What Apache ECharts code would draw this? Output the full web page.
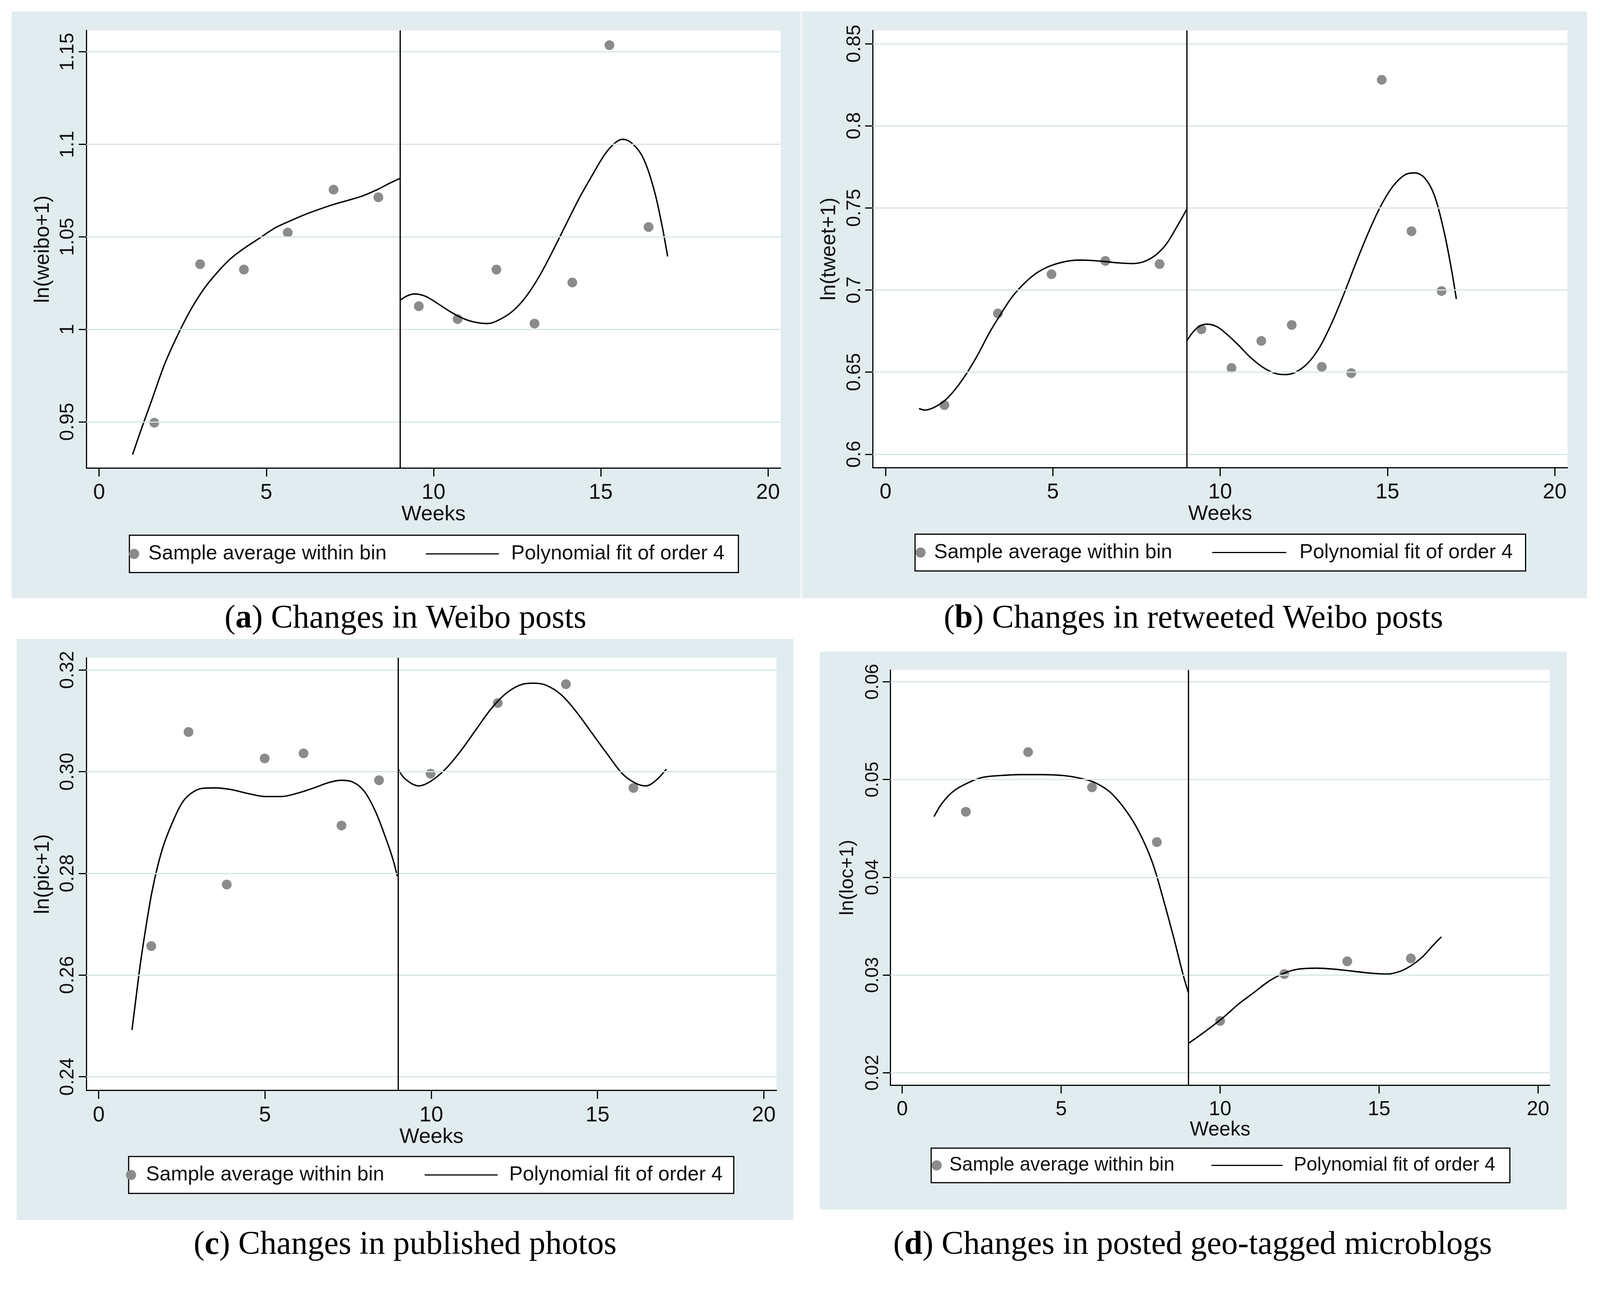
<!DOCTYPE html>
<html>
<head>
<meta charset="utf-8">
<script src="https://cdn.jsdelivr.net/npm/echarts@6/dist/echarts.min.js"></script>
<style>
html,body{margin:0;padding:0;background:#ffffff;overflow:hidden;}
#c{width:4166px;height:3323px;}
</style>
</head>
<body>
<div id="c"></div>
<script>
// ---------------- DATA ----------------
const xTicks = [0, 5, 10, 15, 20];
const xTickLabels = ['0', '5', '10', '15', '20'];
const cutoffWeek = 9;

// (a) ln(weibo+1)
const aTicks = [0.95, 1, 1.05, 1.1, 1.15];
const aTickLabels = ['0.95', '1', '1.05', '1.1', '1.15'];
const aWeeks = [1.65, 3.02, 4.33, 5.64, 7.01, 8.35, 9.56, 10.72, 11.88, 13.02, 14.15, 15.26, 16.43];
const aBin = [0.9495, 1.0352, 1.0323, 1.0523, 1.0755, 1.0714, 1.0125, 1.0055, 1.0323, 1.0031, 1.0253, 1.1536, 1.0553];
const aFitLeftWeeks = [1.0, 1.3, 1.56, 1.96, 2.35, 2.75, 3.14, 3.54, 3.94, 4.33, 4.79, 5.25, 5.65, 6.11, 6.57, 7.01, 7.5, 7.89, 8.35, 8.68, 9.0];
const aFitLeft = [0.9323, 0.948, 0.961, 0.9812, 0.9969, 1.0109, 1.022, 1.0309, 1.0383, 1.0437, 1.0492, 1.0547, 1.0581, 1.0617, 1.0648, 1.0675, 1.07, 1.0722, 1.0758, 1.0789, 1.0816];
const aFitRightWeeks = [9.0, 9.2, 9.43, 9.74, 10.05, 10.44, 10.83, 11.22, 11.61, 12.0, 12.39, 12.78, 13.17, 13.56, 13.95, 14.34, 14.73, 15.12, 15.43, 15.66, 15.97, 16.28, 16.6, 16.83, 17.0];
const aFitRight = [1.0156, 1.018, 1.0191, 1.018, 1.0148, 1.0102, 1.0063, 1.0039, 1.0031, 1.0055, 1.0102, 1.018, 1.0289, 1.0422, 1.0563, 1.0703, 1.0828, 1.0945, 1.1008, 1.1027, 1.1, 1.0922, 1.075, 1.0563, 1.0394];

// (b) ln(tweet+1)
const bTicks = [0.6, 0.65, 0.7, 0.75, 0.8, 0.85];
const bTickLabels = ['0.6', '0.65', '0.7', '0.75', '0.8', '0.85'];
const bWeeks = [1.76, 3.36, 4.96, 6.57, 8.19, 9.44, 10.34, 11.23, 12.14, 13.04, 13.92, 14.83, 15.72, 16.62];
const bBin = [0.6299, 0.6857, 0.7096, 0.7177, 0.7158, 0.6761, 0.6525, 0.669, 0.6787, 0.6532, 0.6494, 0.828, 0.7358, 0.6994];
const bFitLeftWeeks = [1.0, 1.19, 1.46, 1.76, 2.07, 2.41, 2.75, 3.09, 3.43, 3.77, 4.11, 4.45, 4.79, 5.13, 5.47, 5.81, 6.15, 6.57, 6.96, 7.37, 7.71, 8.05, 8.39, 8.73, 9.0];
const bFitLeft = [0.6278, 0.6269, 0.6286, 0.6325, 0.6392, 0.6488, 0.6603, 0.6734, 0.6849, 0.6954, 0.7033, 0.7094, 0.7135, 0.7161, 0.7177, 0.7182, 0.718, 0.7173, 0.7165, 0.7161, 0.7172, 0.7209, 0.7279, 0.7393, 0.749];
const bFitRightWeeks = [9.0, 9.31, 9.6, 9.89, 10.18, 10.55, 10.91, 11.28, 11.65, 11.94, 12.23, 12.6, 12.96, 13.33, 13.69, 14.06, 14.43, 14.79, 15.16, 15.52, 15.82, 16.11, 16.4, 16.69, 16.91, 17.06];
const bFitRight = [0.669, 0.6769, 0.6792, 0.6778, 0.6734, 0.6664, 0.6589, 0.6529, 0.6492, 0.6485, 0.6497, 0.655, 0.6647, 0.6796, 0.6971, 0.7165, 0.7349, 0.7507, 0.763, 0.7701, 0.7713, 0.7683, 0.7578, 0.7358, 0.713, 0.6945];

// (c) ln(pic+1)
const cTicks = [0.24, 0.26, 0.28, 0.30, 0.32];
const cTickLabels = ['0.24', '0.26', '0.28', '0.30', '0.32'];
const cWeeks = [1.58, 2.70, 3.85, 4.99, 6.16, 7.30, 8.43, 9.98, 12.0, 14.05, 16.08];
const cBin = [0.2657, 0.3078, 0.2778, 0.3026, 0.3036, 0.2894, 0.2983, 0.2996, 0.3135, 0.3172, 0.2968];
const cFitLeftWeeks = [1.0, 1.12, 1.25, 1.39, 1.59, 1.78, 1.98, 2.25, 2.51, 2.77, 3.1, 3.5, 3.96, 4.49, 5.02, 5.48, 5.94, 6.47, 6.94, 7.3, 7.66, 7.99, 8.32, 8.65, 8.85, 8.98];
const cFitLeft = [0.2492, 0.2554, 0.2621, 0.2682, 0.276, 0.2816, 0.2861, 0.2905, 0.2939, 0.2957, 0.2967, 0.2968, 0.2965, 0.2957, 0.2951, 0.2951, 0.2957, 0.2968, 0.2979, 0.2983, 0.2979, 0.2961, 0.2922, 0.2866, 0.2827, 0.2794];
const cFitRightWeeks = [9.0, 9.21, 9.63, 9.98, 10.44, 10.9, 11.36, 11.83, 12.29, 12.75, 13.06, 13.45, 13.91, 14.37, 14.83, 15.3, 15.76, 16.15, 16.45, 16.76, 17.07];
const cFitRight = [0.3006, 0.2986, 0.2972, 0.2981, 0.3006, 0.3042, 0.3084, 0.3126, 0.3156, 0.3172, 0.3174, 0.317, 0.3151, 0.3117, 0.3076, 0.3034, 0.2995, 0.2977, 0.2972, 0.2983, 0.3005];

// (d) ln(loc+1)
const dTicks = [0.02, 0.03, 0.04, 0.05, 0.06];
const dTickLabels = ['0.02', '0.03', '0.04', '0.05', '0.06'];
const dWeeks = [2.0, 3.96, 5.97, 8.01, 10.0, 12.02, 14.0, 16.0];
const dBin = [0.0467, 0.0528, 0.0492, 0.0436, 0.0253, 0.0301, 0.0314, 0.0317];
const dFitLeftWeeks = [1.0, 1.26, 1.61, 2.03, 2.51, 3.07, 3.69, 4.39, 5.08, 5.63, 6.05, 6.54, 7.02, 7.44, 7.86, 8.2, 8.55, 8.83, 9.0];
const dFitLeft = [0.0462, 0.0476, 0.0488, 0.0496, 0.0502, 0.0504, 0.0505, 0.0505, 0.0504, 0.0501, 0.0497, 0.0487, 0.0469, 0.0447, 0.0416, 0.0379, 0.0337, 0.0301, 0.0282];
const dFitRightWeeks = [9.0, 9.52, 10.08, 10.57, 11.06, 11.55, 12.02, 12.46, 13.02, 13.58, 14.14, 14.7, 15.26, 15.68, 16.03, 16.38, 16.66, 16.96];
const dFitRight = [0.023, 0.0242, 0.0256, 0.027, 0.0282, 0.0294, 0.0302, 0.0306, 0.0307, 0.0306, 0.0304, 0.0302, 0.0301, 0.0304, 0.031, 0.0319, 0.0329, 0.0339];

const yTitles = ['ln(weibo+1)', 'ln(tweet+1)', 'ln(pic+1)', 'ln(loc+1)'];
const xTitle = 'Weeks';
const legendNames = ['Sample average within bin', 'Polynomial fit of order 4'];
const captionLetters = ['a', 'b', 'c', 'd'];
const captionTexts = ['Changes in Weibo posts', 'Changes in retweeted Weibo posts', 'Changes in published photos', 'Changes in posted geo-tagged microblogs'];

// ---------------- LAYOUT / STYLE ----------------
const S = 0.983; // global layout scale
const SANS = "'Liberation Sans', Arial, Helvetica, sans-serif";
const SERIF = "'Liberation Serif', 'Times New Roman', serif";
const BG = '#e1ecef';
const GRIDC = '#d8e4e9';
const DOT = '#8b8b8b';
const TXT = '#111111';

const panels = [
  { bg: [30, 30, 2055, 1528], grid: [225, 79, 1808, 1140], xr: [-0.38, 20.38], yr: [0.925, 1.1616],
    ticks: aTicks, labels: aTickLabels, bx: aWeeks, by: aBin, flx: aFitLeftWeeks, fly: aFitLeft, frx: aFitRightWeeks, fry: aFitRight,
    lbox: [337, 1394, 1586, 97], lg: { cx: 31, tx: 71, lx: 772, lw: 190, t2: 998 }, cap: [1056, 1612], fs: 1 },
  { bg: [2088, 30, 2045, 1528], grid: [2273, 79, 1809, 1139], xr: [-0.38, 20.38], yr: [0.5918, 0.8581],
    ticks: bTicks, labels: bTickLabels, bx: bWeeks, by: bBin, flx: bFitLeftWeeks, fly: bFitLeft, frx: bFitRightWeeks, fry: bFitRight,
    lbox: [2383, 1391, 1590, 96], lg: { cx: 31, tx: 69, lx: 774, lw: 193, t2: 1005 }, cap: [3108, 1612], fs: 1 },
  { bg: [43, 1664, 2023, 1513], grid: [225, 1713, 1797, 1127], xr: [-0.37, 20.38], yr: [0.2373, 0.3224],
    ticks: cTicks, labels: cTickLabels, bx: cWeeks, by: cBin, flx: cFitLeftWeeks, fly: cFitLeft, frx: cFitRightWeeks, fry: cFitRight,
    lbox: [335, 3012, 1576, 96], lg: { cx: 27, tx: 69, lx: 771, lw: 190, t2: 995 }, cap: [1055, 3243], fs: 1 },
  { bg: [2135, 1697, 1945, 1453], grid: [2319, 1745, 1717, 1081], xr: [-0.37, 20.37], yr: [0.01874, 0.0612],
    ticks: dTicks, labels: dTickLabels, bx: dWeeks, by: dBin, flx: dFitLeftWeeks, fly: dFitLeft, frx: dFitRightWeeks, fry: dFitRight,
    lbox: [2425, 2990, 1507, 90], lg: { cx: 29, tx: 65, lx: 730, lw: 185, t2: 948 }, cap: [3106, 3243], fs: 0.945 }
];

function s(v) { return Math.round(v * S * 10) / 10; }
function fmt(ticks, labels) {
  return function (v) {
    for (let i = 0; i < ticks.length; i++) if (Math.abs(ticks[i] - v) < 1e-9) return labels[i];
    return '';
  };
}
function pairs(xs, ys) { return xs.map((x, i) => [x, ys[i]]); }

const grids = [], xAxes = [], yAxes = [], series = [], legends = [], graphics = [];
const LEG_LH = 60;

panels.forEach((p, i) => {
  const fs = p.fs;
  graphics.push({ type: 'rect', z: -100, silent: true,
    shape: { x: s(p.bg[0]), y: s(p.bg[1]), width: s(p.bg[2]), height: s(p.bg[3]) }, style: { fill: BG } });

  grids.push({ left: s(p.grid[0]), top: s(p.grid[1]), width: s(p.grid[2]), height: s(p.grid[3]),
    show: true, backgroundColor: '#ffffff', borderWidth: 0, containLabel: false, outerBoundsMode: 'none' });

  xAxes.push({
    type: 'value', gridIndex: i, min: p.xr[0], max: p.xr[1],
    axisLine: { show: true, onZero: false, lineStyle: { color: '#000', width: 3 } },
    axisTick: { show: true, length: s(22), inside: false, customValues: xTicks, lineStyle: { color: '#000', width: 3 } },
    axisLabel: { show: true, customValues: xTicks, margin: s(37), fontSize: 55 * fs, fontFamily: SANS, color: TXT,
      formatter: fmt(xTicks, xTickLabels) },
    splitLine: { show: false },
    name: xTitle, nameLocation: 'middle', nameGap: s(89),
    nameTextStyle: { fontSize: 54 * fs, fontFamily: SANS, color: TXT }
  });

  yAxes.push({
    type: 'value', gridIndex: i, min: p.yr[0], max: p.yr[1],
    axisLine: { show: true, onZero: false, lineStyle: { color: '#000', width: 3 } },
    axisTick: { show: true, length: s(20), inside: false, customValues: p.ticks, lineStyle: { color: '#000', width: 3 } },
    axisLabel: { show: true, customValues: p.ticks, rotate: 90, margin: s(22), fontSize: 50 * fs, fontFamily: SANS, color: TXT,
      formatter: fmt(p.ticks, p.labels) },
    splitLine: { show: false },
    name: yTitles[i], nameLocation: 'middle', nameRotate: 90, nameGap: s(86),
    nameTextStyle: { fontSize: 53 * fs, fontFamily: SANS, color: TXT }
  });

  // gridlines at tick values + cutoff line
  series.push({
    type: 'line', name: 'guides' + i, xAxisIndex: i, yAxisIndex: i, data: [], z: 1, silent: true,
    markLine: {
      silent: true, animation: false, symbol: ['none', 'none'], label: { show: false },
      emphasis: { disabled: true },
      data: p.ticks.map(t => ({ yAxis: t, lineStyle: { color: GRIDC, width: 3, type: 'solid' } }))
        .concat([{ xAxis: cutoffWeek, lineStyle: { color: '#000', width: 3.2, type: 'solid' } }])
    }
  });

  series.push({
    type: 'scatter', name: legendNames[0], xAxisIndex: i, yAxisIndex: i, z: 3,
    data: pairs(p.bx, p.by), symbol: 'circle', symbolSize: 25,
    itemStyle: { color: DOT, opacity: 1 }, silent: true
  });

  [[p.flx, p.fly], [p.frx, p.fry]].forEach(seg => {
    series.push({
      type: 'line', name: legendNames[1], xAxisIndex: i, yAxisIndex: i, z: 4,
      data: pairs(seg[0], seg[1]), smooth: 0.35, symbol: 'none', showSymbol: false,
      lineStyle: { color: '#000', width: 3.6 }, itemStyle: { color: '#000' }, silent: true
    });
  });

  // legend box
  const bx = s(p.lbox[0]), byy = s(p.lbox[1]), bw = s(p.lbox[2]), bh = s(p.lbox[3]);
  const cy = byy + bh / 2;
  graphics.push({ type: 'rect', z: 2, silent: true,
    shape: { x: bx, y: byy, width: bw, height: bh },
    style: { fill: '#ffffff', stroke: '#000000', lineWidth: 3 } });

  const w1 = s(2 * (p.lg.tx - p.lg.cx - 8));
  legends.push({
    show: true, selectedMode: false, orient: 'horizontal', padding: 0, z: 5,
    left: bx + s(p.lg.cx) - w1 / 2, top: cy - LEG_LH / 2, itemWidth: w1, itemHeight: 26,
    data: [{ name: legendNames[0], icon: 'circle', itemStyle: { color: DOT } }],
    textStyle: { fontSize: 52 * fs, lineHeight: LEG_LH, fontFamily: SANS, color: TXT }
  });
  const pad2 = s(p.lg.t2 - p.lg.lx - p.lg.lw - 5 - 4);
  legends.push({
    show: true, selectedMode: false, orient: 'horizontal', padding: 0, z: 5,
    left: bx + s(p.lg.lx), top: cy - LEG_LH / 2, itemWidth: s(p.lg.lw), itemHeight: 3,
    data: [{ name: legendNames[1], icon: 'rect', itemStyle: { color: '#000' } }],
    textStyle: { fontSize: 52 * fs, lineHeight: LEG_LH, fontFamily: SANS, color: TXT, padding: [0, 0, 0, pad2] }
  });

  // caption
  graphics.push({
    type: 'text', z: 2, silent: true, x: s(p.cap[0]), y: s(p.cap[1]),
    style: {
      text: '({b|' + captionLetters[i] + '}) ' + captionTexts[i],
      fontSize: 84, fontFamily: SERIF, fill: '#000', align: 'center', verticalAlign: 'middle',
      rich: { b: { fontSize: 84, fontFamily: SERIF, fontWeight: 'bold', fill: '#000' } }
    }
  });
});

const chart = echarts.init(document.getElementById('c'), null, { renderer: 'canvas', width: 4166, height: 3323 });
chart.setOption({
  animation: false,
  backgroundColor: '#ffffff',
  grid: grids,
  xAxis: xAxes,
  yAxis: yAxes,
  legend: legends,
  series: series,
  graphic: { elements: graphics },
  tooltip: { show: false }
});
</script>
</body>
</html>
